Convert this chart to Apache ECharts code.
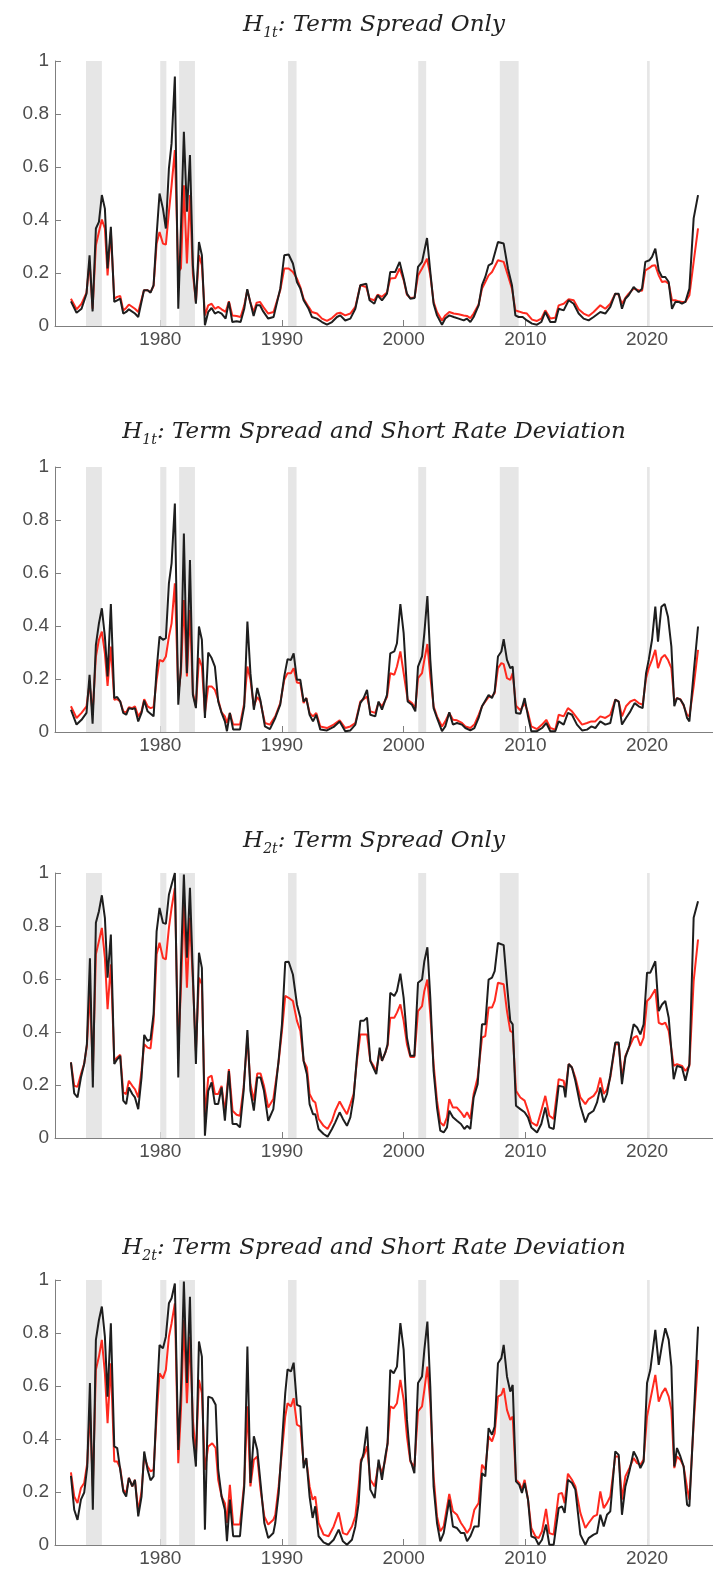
<!DOCTYPE html>
<html><head><meta charset="utf-8">
<script src="https://cdn.jsdelivr.net/npm/echarts@6/dist/echarts.min.js"></script>
<style>html,body{margin:0;padding:0;background:#fff}#c{width:713px;height:1576px}</style>
</head><body><div id="c"></div>
<script>
// ---------- data ----------
const p1Years=[1972.66,1973.12,1973.53,1973.94,1974.19,1974.44,1974.71,1974.96,1975.20,1975.45,1975.67,1975.94,1976.22,1976.46,1976.71,1976.96,1977.20,1977.42,1977.92,1978.19,1978.66,1978.96,1979.20,1979.45,1979.70,1979.94,1980.22,1980.46,1980.71,1980.93,1981.20,1981.48,1981.70,1981.94,1982.19,1982.44,1982.68,1982.93,1983.18,1983.42,1983.67,1983.94,1984.22,1984.49,1984.76,1985.04,1985.37,1985.64,1985.92,1986.27,1986.60,1986.90,1987.15,1987.39,1987.67,1987.92,1988.19,1988.46,1988.87,
1989.31,1989.86,1990.19,1990.55,1990.90,1991.23,1991.51,1991.78,1992.19,1992.46,1992.88,1993.29,1993.70,1994.11,1994.52,1994.79,1995.20,1995.62,1996.03,1996.44,1996.93,1997.20,1997.59,1997.86,1998.22,1998.63,1998.90,1999.31,1999.67,2000.00,2000.27,2000.55,2000.90,2001.18,2001.51,2001.92,2002.19,2002.46,2002.74,2003.15,2003.42,2003.75,2004.11,2004.52,2004.93,2005.20,2005.48,2005.75,2006.16,2006.44,2006.71,
2006.98,2007.26,2007.75,2008.22,2008.57,2008.90,2009.18,2009.45,2009.78,2010.13,2010.55,2010.96,2011.31,2011.64,2012.05,2012.46,2012.74,2013.15,2013.56,2013.97,2014.38,2014.79,2015.20,2015.61,2016.16,2016.57,2016.98,2017.39,2017.67,2017.94,2018.22,2018.49,2018.90,2019.31,2019.59,2019.86,2020.19,2020.41,2020.68,2020.96,2021.23,2021.50,2021.78,2022.05,2022.33,2022.60,2022.87,2023.15,2023.48,2023.83,2024.19];
const p1Black=[0.093,0.050,0.065,0.122,0.267,0.055,0.368,0.393,0.494,0.443,0.217,0.374,0.091,0.097,0.103,0.047,0.053,0.063,0.047,0.034,0.135,0.135,0.126,0.154,0.343,0.500,0.443,0.368,0.594,0.689,0.941,0.065,0.368,0.733,0.431,0.645,0.229,0.084,0.317,0.267,0.003,0.053,0.068,0.047,0.053,0.047,0.028,0.091,0.015,0.018,0.015,0.065,0.139,0.091,0.038,0.078,0.078,0.055,0.028,
0.034,0.141,0.267,0.270,0.236,0.166,0.141,0.097,0.065,0.034,0.028,0.015,0.005,0.015,0.034,0.040,0.021,0.028,0.065,0.154,0.160,0.097,0.084,0.116,0.097,0.122,0.204,0.204,0.242,0.179,0.122,0.103,0.106,0.223,0.242,0.332,0.204,0.084,0.040,0.005,0.028,0.040,0.034,0.028,0.021,0.028,0.015,0.034,0.078,0.154,0.185,
0.229,0.236,0.317,0.311,0.217,0.154,0.040,0.034,0.034,0.021,0.009,0.005,0.015,0.053,0.015,0.015,0.065,0.059,0.097,0.084,0.047,0.028,0.021,0.034,0.053,0.047,0.072,0.122,0.122,0.065,0.103,0.116,0.147,0.128,0.141,0.242,0.248,0.261,0.292,0.210,0.185,0.185,0.166,0.065,0.091,0.091,0.084,0.091,0.141,0.406,0.494];
const p1Red=[0.103,0.063,0.084,0.126,0.242,0.065,0.305,0.355,0.402,0.368,0.191,0.355,0.103,0.110,0.113,0.059,0.068,0.081,0.065,0.053,0.135,0.135,0.128,0.151,0.311,0.355,0.311,0.307,0.431,0.531,0.664,0.204,0.217,0.531,0.236,0.494,0.198,0.091,0.267,0.229,0.040,0.078,0.084,0.065,0.072,0.063,0.053,0.093,0.040,0.038,0.034,0.078,0.135,0.091,0.053,0.088,0.091,0.072,0.047,
0.053,0.135,0.217,0.217,0.204,0.179,0.147,0.103,0.072,0.053,0.047,0.028,0.019,0.030,0.047,0.050,0.040,0.047,0.072,0.154,0.147,0.103,0.097,0.118,0.110,0.126,0.179,0.181,0.217,0.173,0.118,0.106,0.108,0.191,0.217,0.254,0.191,0.091,0.053,0.021,0.040,0.053,0.047,0.044,0.040,0.038,0.030,0.047,0.081,0.141,0.166,
0.191,0.204,0.248,0.242,0.191,0.141,0.059,0.055,0.050,0.047,0.024,0.019,0.028,0.059,0.028,0.031,0.078,0.084,0.101,0.097,0.063,0.047,0.038,0.053,0.078,0.065,0.084,0.122,0.118,0.084,0.106,0.122,0.141,0.135,0.133,0.210,0.219,0.227,0.229,0.191,0.166,0.169,0.160,0.097,0.097,0.093,0.091,0.091,0.116,0.242,0.368];

const p2Years=[1972.66,1973.12,1973.53,1973.94,1974.19,1974.44,1974.71,1974.96,1975.20,1975.45,1975.67,1975.94,1976.22,1976.46,1976.71,1976.96,1977.20,1977.42,1977.70,1977.92,1978.19,1978.46,1978.68,1978.96,1979.20,1979.45,1979.70,1979.94,1980.22,1980.46,1980.71,1980.93,1981.20,1981.48,1981.70,1981.94,1982.19,1982.44,1982.68,1982.93,1983.18,1983.42,1983.67,1983.94,1984.22,1984.49,1984.76,1985.04,1985.31,1985.48,1985.72,1985.99,1986.55,1986.90,1987.16,1987.41,1987.69,1987.97,1988.22,1988.60,1989.01,
1989.45,1989.86,1990.19,1990.46,1990.74,1990.96,1991.23,1991.51,1991.78,1992.00,1992.27,1992.55,1992.82,1993.15,1993.70,1994.25,1994.74,1995.20,1995.62,1996.03,1996.44,1996.71,1996.99,1997.26,1997.67,1997.94,1998.22,1998.63,1998.90,1999.23,1999.45,1999.73,2000.00,2000.33,2000.68,2000.96,2001.18,2001.51,2001.70,2001.95,2002.19,2002.46,2002.74,2003.15,2003.42,2003.75,2004.05,2004.38,2004.79,2005.07,2005.48,2005.81,2006.16,2006.44,
2006.98,2007.26,2007.48,2007.75,2008.03,2008.22,2008.49,2008.76,2008.96,2009.23,2009.59,2009.94,2010.22,2010.49,2010.96,2011.37,2011.72,2012.05,2012.46,2012.74,2013.15,2013.50,2013.83,2014.24,2014.66,2015.07,2015.42,2015.75,2016.16,2016.57,2016.98,2017.39,2017.67,2017.94,2018.27,2018.63,2018.98,2019.31,2019.64,2019.92,2020.14,2020.41,2020.68,2020.90,2021.18,2021.45,2021.72,2022.00,2022.24,2022.46,2022.74,2023.01,2023.29,2023.48,2023.83,2024.19];
const p2Black=[0.084,0.028,0.046,0.072,0.216,0.031,0.329,0.410,0.467,0.360,0.210,0.483,0.128,0.132,0.115,0.072,0.065,0.090,0.087,0.090,0.040,0.072,0.119,0.078,0.069,0.059,0.235,0.360,0.348,0.354,0.561,0.636,0.862,0.103,0.247,0.749,0.222,0.649,0.140,0.090,0.398,0.348,0.053,0.300,0.279,0.247,0.115,0.072,0.040,0.003,0.072,0.009,0.009,0.097,0.417,0.222,0.084,0.166,0.122,0.021,0.011,
0.053,0.103,0.210,0.275,0.272,0.297,0.197,0.197,0.115,0.128,0.065,0.040,0.065,0.009,0.006,0.019,0.040,0.003,0.006,0.028,0.109,0.128,0.159,0.065,0.059,0.115,0.084,0.140,0.297,0.304,0.335,0.483,0.373,0.115,0.103,0.078,0.247,0.285,0.373,0.513,0.272,0.090,0.053,0.003,0.021,0.074,0.028,0.034,0.028,0.015,0.006,0.015,0.053,0.097,
0.140,0.128,0.153,0.285,0.304,0.350,0.272,0.241,0.247,0.072,0.069,0.128,0.059,0.003,0.003,0.015,0.034,0.003,0.003,0.040,0.028,0.072,0.065,0.028,0.006,0.009,0.021,0.015,0.040,0.028,0.034,0.122,0.115,0.028,0.053,0.078,0.109,0.097,0.090,0.222,0.272,0.348,0.473,0.341,0.473,0.483,0.435,0.322,0.097,0.128,0.122,0.103,0.053,0.040,0.222,0.398];
const p2Red=[0.097,0.053,0.072,0.097,0.184,0.072,0.285,0.348,0.379,0.297,0.174,0.322,0.122,0.124,0.115,0.078,0.074,0.094,0.090,0.097,0.059,0.078,0.124,0.097,0.090,0.094,0.197,0.272,0.266,0.285,0.360,0.410,0.561,0.147,0.222,0.498,0.210,0.460,0.147,0.097,0.279,0.247,0.072,0.172,0.172,0.159,0.122,0.074,0.059,0.034,0.072,0.028,0.028,0.109,0.247,0.197,0.097,0.132,0.115,0.034,0.028,
0.059,0.109,0.197,0.222,0.222,0.241,0.187,0.184,0.109,0.128,0.072,0.059,0.072,0.021,0.015,0.028,0.044,0.015,0.021,0.034,0.115,0.124,0.134,0.078,0.072,0.112,0.097,0.132,0.222,0.216,0.247,0.304,0.222,0.122,0.109,0.090,0.203,0.222,0.272,0.332,0.210,0.097,0.059,0.021,0.040,0.072,0.046,0.044,0.034,0.021,0.015,0.028,0.065,0.097,
0.132,0.134,0.147,0.241,0.260,0.256,0.203,0.197,0.222,0.099,0.082,0.109,0.072,0.021,0.011,0.028,0.046,0.015,0.009,0.065,0.059,0.090,0.078,0.053,0.028,0.034,0.040,0.040,0.059,0.053,0.065,0.122,0.115,0.059,0.097,0.115,0.122,0.109,0.103,0.203,0.241,0.272,0.310,0.241,0.279,0.291,0.272,0.241,0.115,0.128,0.124,0.099,0.065,0.059,0.172,0.310];

const p3Years=[1972.66,1972.93,1973.20,1973.48,1973.75,1973.97,1974.22,1974.46,1974.71,1974.96,1975.20,1975.45,1975.67,1975.94,1976.22,1976.46,1976.71,1976.96,1977.20,1977.42,1977.70,1977.92,1978.19,1978.46,1978.68,1978.96,1979.20,1979.45,1979.70,1979.94,1980.22,1980.46,1980.71,1980.93,1981.20,1981.48,1981.70,1981.94,1982.19,1982.44,1982.68,1982.93,1983.18,1983.42,1983.67,1983.94,1984.22,1984.49,1984.76,1985.04,1985.31,1985.64,1985.94,1986.27,1986.55,1986.85,1987.16,1987.41,1987.69,1987.97,1988.24,1988.52,1988.87,1989.29,
1989.72,1990.00,1990.27,1990.55,1990.90,1991.23,1991.51,1991.78,1992.05,1992.27,1992.55,1992.74,1993.01,1993.42,1993.75,1994.11,1994.38,1994.74,1995.01,1995.34,1995.62,1995.89,1996.16,1996.44,1996.71,1996.99,1997.26,1997.53,1997.75,1998.03,1998.22,1998.49,1998.68,1998.90,1999.23,1999.45,1999.73,2000.00,2000.27,2000.55,2000.88,2001.18,2001.51,2001.70,2001.95,2002.19,2002.46,2002.74,2003.01,2003.29,2003.56,2003.75,2004.05,2004.38,2004.71,2004.99,2005.21,2005.48,2005.75,2006.08,2006.44,2006.71,
2006.98,2007.26,2007.48,2007.75,2008.22,2008.49,2008.76,2008.96,2009.23,2009.59,2009.94,2010.22,2010.49,2010.96,2011.31,2011.64,2011.97,2012.33,2012.74,2013.15,2013.29,2013.56,2013.83,2014.11,2014.52,2014.93,2015.20,2015.61,2015.89,2016.16,2016.44,2016.71,2016.98,2017.39,2017.67,2017.94,2018.22,2018.55,2018.90,2019.18,2019.45,2019.72,2020.00,2020.27,2020.68,2020.96,2021.23,2021.50,2021.78,2022.19,2022.46,2022.87,2023.15,2023.48,2023.83,2024.19];
const p3Black=[0.285,0.168,0.153,0.228,0.279,0.354,0.678,0.191,0.812,0.856,0.916,0.831,0.605,0.768,0.279,0.297,0.310,0.141,0.128,0.191,0.166,0.153,0.109,0.228,0.389,0.366,0.373,0.467,0.780,0.868,0.812,0.808,0.918,0.956,1.000,0.228,0.655,0.994,0.680,0.944,0.617,0.279,0.699,0.642,0.009,0.178,0.210,0.128,0.128,0.191,0.065,0.253,0.053,0.053,0.040,0.178,0.407,0.178,0.103,0.228,0.228,0.178,0.065,0.109,
0.291,0.429,0.664,0.665,0.617,0.504,0.454,0.291,0.241,0.128,0.090,0.090,0.034,0.015,0.005,0.034,0.059,0.097,0.072,0.046,0.078,0.153,0.304,0.442,0.442,0.454,0.291,0.263,0.241,0.341,0.291,0.322,0.354,0.548,0.536,0.555,0.620,0.529,0.379,0.310,0.310,0.586,0.598,0.667,0.720,0.529,0.253,0.115,0.028,0.021,0.040,0.103,0.078,0.065,0.053,0.034,0.046,0.034,0.153,0.203,0.429,0.429,
0.598,0.605,0.630,0.736,0.728,0.580,0.442,0.429,0.122,0.109,0.097,0.078,0.040,0.021,0.053,0.115,0.040,0.034,0.197,0.193,0.153,0.279,0.266,0.216,0.122,0.059,0.090,0.103,0.134,0.191,0.134,0.166,0.235,0.360,0.360,0.203,0.304,0.348,0.429,0.417,0.391,0.429,0.624,0.624,0.667,0.479,0.504,0.517,0.454,0.222,0.272,0.266,0.216,0.279,0.831,0.893];
const p3Red=[0.285,0.197,0.193,0.241,0.281,0.348,0.555,0.253,0.693,0.743,0.793,0.680,0.486,0.655,0.291,0.304,0.314,0.172,0.166,0.216,0.197,0.184,0.153,0.253,0.354,0.341,0.338,0.442,0.693,0.737,0.680,0.674,0.793,0.868,0.944,0.329,0.567,0.881,0.567,0.831,0.592,0.329,0.605,0.580,0.078,0.228,0.235,0.166,0.166,0.197,0.097,0.260,0.103,0.088,0.084,0.191,0.379,0.203,0.141,0.243,0.243,0.197,0.115,0.147,
0.285,0.404,0.536,0.529,0.517,0.442,0.404,0.291,0.266,0.166,0.141,0.134,0.072,0.046,0.034,0.065,0.103,0.138,0.115,0.090,0.128,0.166,0.291,0.391,0.391,0.391,0.291,0.272,0.253,0.329,0.291,0.322,0.348,0.454,0.454,0.473,0.504,0.442,0.354,0.306,0.306,0.479,0.498,0.555,0.598,0.467,0.279,0.141,0.059,0.046,0.078,0.147,0.115,0.115,0.097,0.078,0.097,0.072,0.166,0.228,0.379,0.385,
0.492,0.492,0.517,0.586,0.580,0.479,0.404,0.398,0.178,0.153,0.141,0.103,0.059,0.046,0.103,0.159,0.084,0.072,0.222,0.216,0.178,0.279,0.266,0.228,0.153,0.128,0.147,0.159,0.178,0.228,0.166,0.184,0.228,0.354,0.354,0.228,0.310,0.344,0.379,0.385,0.348,0.379,0.517,0.529,0.561,0.435,0.429,0.435,0.404,0.272,0.279,0.272,0.253,0.272,0.592,0.749];

const p4Years=[1972.66,1972.93,1973.20,1973.48,1973.75,1974.00,1974.22,1974.46,1974.71,1974.96,1975.20,1975.45,1975.67,1975.94,1976.22,1976.46,1976.71,1976.96,1977.20,1977.42,1977.70,1977.92,1978.19,1978.46,1978.68,1978.96,1979.20,1979.45,1979.70,1979.94,1980.22,1980.46,1980.71,1980.93,1981.20,1981.48,1981.70,1981.94,1982.19,1982.44,1982.68,1982.93,1983.18,1983.42,1983.67,1983.94,1984.27,1984.55,1984.76,1985.04,1985.31,1985.48,1985.72,1985.99,1986.55,1986.90,1987.16,1987.41,1987.69,1987.97,1988.24,1988.55,1988.87,1989.29,
1989.45,1989.73,1990.00,1990.27,1990.46,1990.74,1990.96,1991.23,1991.51,1991.78,1992.00,1992.27,1992.52,1992.74,1993.01,1993.42,1993.83,1994.25,1994.66,1995.01,1995.34,1995.75,1996.03,1996.30,1996.49,1996.71,1996.99,1997.26,1997.62,1997.94,1998.22,1998.49,1998.68,1998.90,1999.18,1999.45,1999.73,2000.00,2000.27,2000.55,2000.88,2001.18,2001.51,2001.70,2001.95,2002.19,2002.46,2002.74,2003.01,2003.29,2003.75,2004.05,2004.38,2004.71,2004.99,2005.21,2005.48,2005.81,2006.16,2006.44,2006.71,
2006.98,2007.26,2007.48,2007.75,2008.03,2008.22,2008.49,2008.76,2008.96,2009.23,2009.50,2009.72,2009.94,2010.22,2010.49,2010.82,2011.09,2011.37,2011.70,2011.97,2012.33,2012.74,2013.01,2013.23,2013.50,2013.83,2014.11,2014.52,2014.93,2015.20,2015.61,2015.89,2016.16,2016.44,2016.71,2016.98,2017.39,2017.67,2017.94,2018.22,2018.55,2018.90,2019.18,2019.45,2019.72,2020.00,2020.27,2020.68,2020.96,2021.23,2021.50,2021.78,2022.00,2022.24,2022.46,2022.74,2023.01,2023.29,2023.48,2023.83,2024.19];
const p4Black=[0.261,0.133,0.095,0.171,0.198,0.296,0.611,0.133,0.774,0.849,0.900,0.786,0.560,0.837,0.372,0.366,0.284,0.202,0.183,0.253,0.221,0.246,0.108,0.183,0.353,0.284,0.244,0.259,0.535,0.755,0.742,0.786,0.912,0.931,0.987,0.359,0.585,0.994,0.611,0.937,0.410,0.296,0.768,0.711,0.058,0.560,0.554,0.529,0.284,0.183,0.133,0.014,0.171,0.033,0.033,0.221,0.749,0.234,0.410,0.359,0.234,0.083,0.026,0.045,
0.083,0.196,0.384,0.573,0.663,0.655,0.688,0.529,0.523,0.290,0.328,0.183,0.102,0.146,0.033,0.010,0.001,0.020,0.058,0.014,0.001,0.020,0.070,0.158,0.309,0.347,0.447,0.209,0.177,0.322,0.246,0.334,0.384,0.661,0.648,0.673,0.837,0.736,0.472,0.322,0.271,0.611,0.636,0.736,0.843,0.598,0.221,0.083,0.014,0.045,0.171,0.070,0.064,0.045,0.045,0.014,0.033,0.070,0.070,0.271,0.259,
0.441,0.416,0.447,0.686,0.705,0.755,0.636,0.579,0.604,0.240,0.227,0.196,0.234,0.171,0.033,0.026,0.001,0.020,0.077,0.001,0.001,0.139,0.146,0.121,0.246,0.234,0.209,0.039,0.001,0.026,0.039,0.045,0.114,0.070,0.114,0.127,0.353,0.340,0.114,0.221,0.278,0.353,0.328,0.290,0.315,0.611,0.661,0.812,0.680,0.755,0.818,0.774,0.673,0.296,0.366,0.334,0.296,0.152,0.146,0.472,0.824];
const p4Red=[0.274,0.183,0.158,0.215,0.234,0.309,0.510,0.221,0.661,0.711,0.774,0.648,0.460,0.686,0.315,0.315,0.290,0.209,0.196,0.253,0.221,0.246,0.127,0.202,0.334,0.296,0.278,0.284,0.485,0.648,0.629,0.661,0.786,0.837,0.912,0.309,0.510,0.849,0.535,0.786,0.472,0.334,0.623,0.573,0.284,0.372,0.384,0.366,0.246,0.183,0.158,0.083,0.227,0.077,0.077,0.234,0.523,0.221,0.322,0.334,0.209,0.108,0.077,0.095,
0.114,0.221,0.353,0.485,0.535,0.523,0.554,0.454,0.447,0.309,0.322,0.221,0.171,0.183,0.083,0.039,0.033,0.070,0.123,0.045,0.039,0.070,0.108,0.221,0.322,0.334,0.372,0.246,0.221,0.309,0.271,0.322,0.384,0.523,0.516,0.535,0.623,0.548,0.410,0.315,0.296,0.504,0.523,0.585,0.673,0.535,0.259,0.108,0.052,0.070,0.193,0.127,0.114,0.083,0.064,0.045,0.064,0.133,0.158,0.303,0.284,
0.410,0.391,0.422,0.560,0.567,0.592,0.510,0.472,0.485,0.246,0.234,0.209,0.246,0.171,0.064,0.033,0.026,0.052,0.136,0.045,0.039,0.193,0.196,0.158,0.269,0.246,0.221,0.121,0.064,0.083,0.108,0.114,0.202,0.139,0.158,0.183,0.334,0.334,0.171,0.259,0.290,0.328,0.309,0.303,0.322,0.485,0.548,0.642,0.541,0.573,0.592,0.560,0.510,0.290,0.334,0.322,0.296,0.215,0.171,0.460,0.698];

const recessions=[[1973.9,1975.2],[1980.0,1980.5],[1981.55,1982.85],[1990.5,1991.2],[2001.2,2001.85],[2007.9,2009.45],[2020.0,2020.22]];
const xTickYears=[1980,1990,2000,2010,2020];
const titleSubs=['1t','1t','2t','2t'];
const titleTexts=['Term Spread Only','Term Spread and Short Rate Deviation','Term Spread Only','Term Spread and Short Rate Deviation'];

// ---------- chart ----------
const panels=[[p1Years,p1Black,p1Red],[p2Years,p2Black,p2Red],[p3Years,p3Black,p3Red],[p4Years,p4Black,p4Red]];
const gridTops=[61,467,873,1280];
const titleTops=[5,412,821,1228];
const chart=echarts.init(document.getElementById('c'),null,{renderer:'canvas'});
const axisGrey='#7f7f7f', labelGrey='#4d4d4d';
const opt={animation:false,backgroundColor:'#fff',title:[],grid:[],xAxis:[],yAxis:[],series:[]};
panels.forEach((p,i)=>{
  opt.title.push({left:369,textAlign:'center',top:titleTops[i],text:'{it|H}{sub|'+titleSubs[i]+'}{it|: '+titleTexts[i]+'}',
    textStyle:{fontWeight:'normal',rich:{
      it:{fontFamily:'DejaVu Serif',fontStyle:'italic',fontWeight:'normal',fontSize:23,color:'#222',lineHeight:30,verticalAlign:'middle'},
      sub:{fontFamily:'DejaVu Serif',fontStyle:'italic',fontWeight:'normal',fontSize:14,color:'#222',lineHeight:30,verticalAlign:'bottom'}}}});
  opt.grid.push({left:55,width:658,top:gridTops[i],height:265});
  opt.xAxis.push({gridIndex:i,type:'value',min:1971.35,max:2025.42,
    axisLine:{show:true,onZero:false,lineStyle:{color:axisGrey,width:1}},
    axisTick:{show:true,inside:true,length:6,customValues:xTickYears,lineStyle:{color:axisGrey}},
    axisLabel:{show:true,customValues:xTickYears,formatter:v=>String(Math.round(v)),color:labelGrey,fontFamily:'Liberation Sans',fontSize:19,margin:4},
    splitLine:{show:false}});
  opt.yAxis.push({gridIndex:i,type:'value',min:0,max:1,interval:0.2,
    axisLine:{show:true,lineStyle:{color:axisGrey,width:1}},
    axisTick:{show:true,inside:true,length:6,lineStyle:{color:axisGrey}},
    axisLabel:{color:labelGrey,fontFamily:'Liberation Sans',fontSize:19,margin:6,formatter:v=>String(+v.toFixed(1))},
    splitLine:{show:false}});
  const [yrs,blk,red]=p;
  opt.series.push({type:'line',xAxisIndex:i,yAxisIndex:i,data:yrs.map((y,k)=>[y,red[k]]),showSymbol:false,
    lineStyle:{color:'#ff2a1f',width:2},z:2,
    markArea:{silent:true,itemStyle:{color:'#e6e6e6'},data:recessions.map(r=>[{xAxis:r[0]},{xAxis:r[1]}])}});
  opt.series.push({type:'line',xAxisIndex:i,yAxisIndex:i,data:yrs.map((y,k)=>[y,blk[k]]),showSymbol:false,
    lineStyle:{color:'#1e1e1e',width:2},z:3});
});
chart.setOption(opt);
</script></body></html>
